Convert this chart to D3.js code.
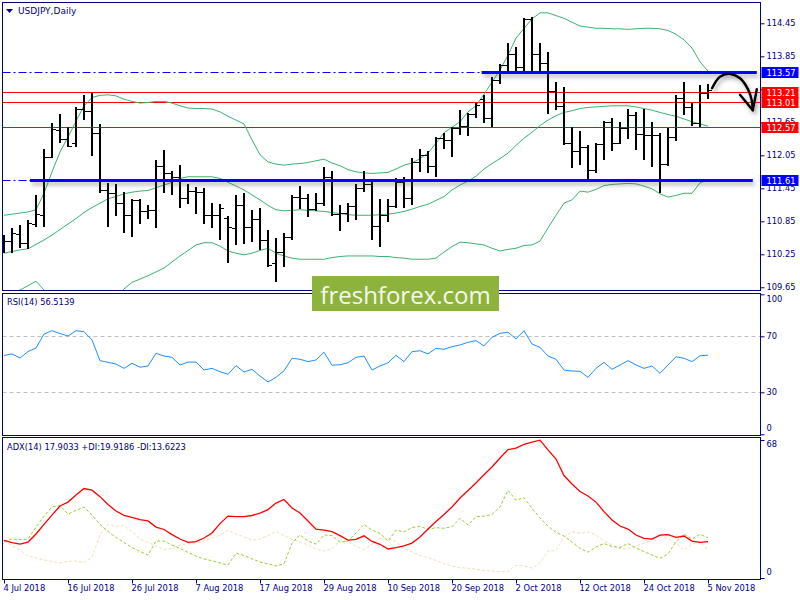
<!DOCTYPE html>
<html>
<head>
<meta charset="utf-8">
<title>USDJPY Daily</title>
<script src="https://cdn.jsdelivr.net/npm/d3@7"></script>
<style>
  body { margin: 0; background: #fff; }
  #viz svg { display: block; }
  .axis text { font-family: 'DejaVu Sans', sans-serif; font-size: 8.3px; fill: #000080; }
  .axis line { stroke: #000080; }
  .lbl { font-family: 'DejaVu Sans', sans-serif; font-size: 8.3px; fill: #000080; }
</style>
</head>
<body>
<div id="viz"></div>
<script>
// USDJPY daily bars, 4 Jul - 5 Nov 2018
const opens = [110.51,110.49,110.62,110.46,110.81,110.96,112.02,112.51,112.34,112.27,
    112.89,112.86,112.45,111.42,111.36,111.19,110.96,111.24,111.04,111.05,
    111.86,111.72,111.65,111.27,111.40,111.38,110.96,110.96,110.91,110.72,
    111.15,110.75,110.89,110.51,110.09,110.30,110.57,111.30,111.27,111.07,
    111.19,111.66,110.98,111.00,111.12,111.45,111.52,110.76,110.96,111.13,
    111.57,111.27,111.93,112.06,111.86,112.36,112.33,112.54,112.59,112.80,
    113.07,112.72,113.42,113.69,113.90,113.66,114.52,113.90,113.72,113.22,
    112.95,112.28,112.13,112.21,111.78,112.26,112.66,112.27,112.55,112.78,
    112.43,112.42,112.42,111.89,112.39,113.10,112.93,112.63,113.18];
const highs = [110.60,110.72,110.78,110.87,111.33,112.16,112.63,112.80,112.57,112.93,
    113.15,113.18,112.62,111.55,111.53,111.38,111.25,111.26,111.15,111.96,
    112.15,111.76,111.87,111.53,111.47,111.45,111.18,111.16,110.95,111.33,
    111.36,111.06,111.09,110.69,110.54,110.63,111.33,111.49,111.35,111.36,
    111.84,111.77,111.15,111.18,111.53,111.77,111.56,111.25,111.25,111.63,
    111.66,112.00,112.16,112.13,112.38,112.46,112.57,112.87,112.82,113.00,
    113.15,113.48,113.71,114.09,114.02,114.54,114.56,114.10,113.93,113.39,
    113.30,112.56,112.49,112.24,112.28,112.67,112.73,112.66,112.90,112.84,
    112.90,112.66,112.46,112.54,113.15,113.39,113.00,113.33,113.34];
const lows = [110.27,110.28,110.36,110.34,110.75,110.75,112.00,112.27,112.21,112.21,
    112.69,112.04,111.37,110.74,110.95,110.64,110.57,110.81,110.89,110.72,
    111.37,111.33,111.09,111.16,110.98,110.81,110.72,110.51,110.10,110.42,
    110.44,110.47,110.33,110.02,109.75,110.02,110.51,111.07,110.93,111.04,
    111.12,110.95,110.68,110.84,110.87,111.38,110.51,110.38,110.84,111.10,
    111.09,111.15,111.75,111.72,111.66,112.16,112.02,112.42,112.40,112.72,
    112.63,112.57,113.35,113.57,113.53,113.54,113.57,113.57,112.81,112.87,
    112.24,111.82,111.87,111.60,111.72,111.96,112.12,112.25,112.34,112.15,
    111.96,111.84,111.36,111.86,112.31,112.78,112.58,112.56,113.07];
const closes = [110.49,110.63,110.46,110.82,110.98,112.02,112.52,112.34,112.22,112.89,
    112.86,112.45,111.42,111.36,111.19,110.96,111.24,111.04,111.05,111.86,
    111.72,111.65,111.27,111.40,111.38,110.96,110.96,111.09,110.75,111.15,
    110.75,110.89,110.51,110.06,110.30,110.57,111.30,111.27,111.07,111.19,
    111.66,110.98,111.00,111.12,111.45,111.52,110.76,110.96,111.13,111.57,
    111.27,111.93,112.06,111.86,112.36,112.33,112.54,112.59,112.80,112.96,
    112.72,113.42,113.69,113.90,113.66,114.52,113.90,113.72,113.22,112.95,
    112.28,112.13,112.21,111.78,112.26,112.66,112.27,112.55,112.78,112.43,
    112.42,112.42,111.89,112.39,113.10,112.93,112.63,113.18,113.24];

// Bollinger bands (20)
const bbUpper = [110.96,110.98,111.00,111.02,111.06,111.36,111.75,112.11,112.38,112.67,
    112.95,113.10,113.14,113.15,113.13,113.07,113.03,113.00,113.01,113.03,
    113.03,113.00,112.95,112.91,112.90,112.90,112.89,112.84,112.76,112.69,
    112.62,112.33,112.06,111.93,111.89,111.87,111.89,111.90,111.92,111.95,
    111.98,111.91,111.86,111.79,111.75,111.73,111.72,111.73,111.74,111.80,
    111.87,111.91,111.99,112.09,112.27,112.46,112.56,112.66,112.84,112.95,
    113.16,113.38,113.60,113.87,114.18,114.36,114.53,114.64,114.64,114.59,
    114.54,114.47,114.40,114.38,114.36,114.36,114.35,114.35,114.34,114.35,
    114.36,114.36,114.35,114.32,114.25,114.15,114.00,113.75,113.58];
const bbMiddle = [110.27,110.30,110.33,110.35,110.43,110.51,110.60,110.70,110.80,110.90,
    111.01,111.10,111.18,111.26,111.30,111.35,111.38,111.40,111.41,111.46,
    111.51,111.56,111.63,111.66,111.66,111.66,111.66,111.63,111.56,111.49,
    111.42,111.33,111.24,111.14,111.06,111.04,111.05,111.06,111.05,111.04,
    111.03,111.01,110.99,110.97,110.96,110.96,110.96,110.97,110.98,111.00,
    111.03,111.07,111.12,111.16,111.23,111.30,111.42,111.51,111.58,111.67,
    111.80,111.90,111.99,112.09,112.23,112.36,112.47,112.59,112.69,112.77,
    112.83,112.86,112.90,112.92,112.93,112.94,112.95,112.95,112.95,112.93,
    112.90,112.87,112.83,112.79,112.76,112.71,112.66,112.62,112.58];
const bbLower = [109.55,109.56,109.60,109.68,109.76,109.60,109.51,109.29,109.22,109.13,
    109.07,109.10,109.23,109.36,109.47,109.62,109.74,109.80,109.86,109.93,
    110.00,110.11,110.22,110.32,110.42,110.46,110.46,110.40,110.31,110.27,
    110.24,110.27,110.32,110.36,110.27,110.22,110.18,110.16,110.16,110.16,
    110.16,110.19,110.21,110.22,110.22,110.22,110.22,110.21,110.21,110.19,
    110.18,110.16,110.16,110.16,110.18,110.29,110.39,110.47,110.46,110.44,
    110.42,110.36,110.31,110.34,110.36,110.41,110.42,110.49,110.73,110.96,
    111.18,111.24,111.40,111.38,111.43,111.50,111.52,111.53,111.54,111.53,
    111.49,111.44,111.35,111.29,111.32,111.36,111.36,111.55,111.60];

const rsi = [56.3,57.4,54.5,59.1,61.6,71.6,74.0,72.0,70.2,74.0,
    73.3,67.4,52.6,51.4,50.2,47.1,50.7,47.9,48.8,57.9,
    55.9,55.0,49.5,51.6,51.6,45.9,47.1,44.7,42.9,49.0,
    44.5,46.4,41.6,37.4,40.7,45.4,54.3,53.6,51.9,53.1,
    58.6,49.3,49.7,51.1,55.0,55.9,45.9,48.8,51.1,56.4,
    51.9,59.0,59.7,57.4,61.4,60.7,62.6,63.8,65.7,66.9,
    63.1,69.3,72.1,72.9,68.1,74.0,64.5,62.1,55.9,53.6,
    45.9,45.2,45.0,40.7,47.1,51.4,46.4,49.5,52.6,49.5,
    47.1,48.8,43.6,49.5,55.4,54.3,51.9,56.1,56.5];

const adx = [18.5,17.4,16.7,17.7,21.7,26.4,31.0,35.5,37.4,40.9,
    44.1,43.3,40.1,36.2,33.0,30.9,29.9,28.8,28.1,25.1,
    23.9,21.4,19.2,17.6,17.9,19.7,22.2,26.8,30.5,30.2,
    30.2,30.8,32.0,33.7,36.9,38.7,34.5,32.0,28.1,24.1,
    23.6,22.8,20.9,18.7,19.0,20.8,18.0,16.6,14.3,15.0,
    15.8,17.2,20.2,24.1,27.8,31.3,35.0,39.4,43.1,46.8,
    50.9,54.7,59.1,63.3,64.0,65.8,67.0,67.9,63.1,58.6,
    50.5,46.3,42.6,40.4,37.4,32.7,28.6,25.6,24.1,21.2,
    19.5,19.2,21.1,21.4,20.0,20.7,18.2,17.6,17.9];
const plusDI = [18.2,19.2,18.9,19.2,25.1,30.5,35.0,35.6,31.5,33.3,
    35.0,31.0,26.4,22.9,20.0,17.5,15.0,13.1,11.3,18.2,
    18.2,16.3,14.6,12.6,10.8,9.4,8.5,7.4,6.4,12.3,
    11.1,9.4,7.9,7.0,5.9,7.0,17.2,21.2,18.2,16.7,
    21.2,20.9,17.7,18.0,22.2,26.4,23.6,22.0,18.2,23.6,
    22.7,24.9,25.4,24.0,24.8,24.5,25.3,29.4,26.1,30.2,
    30.5,31.3,35.0,43.2,38.4,39.6,34.3,29.6,25.6,22.4,
    20.7,17.7,14.6,12.7,15.3,17.0,15.5,15.0,17.0,14.8,
    13.0,11.3,9.7,11.8,18.0,21.5,19.2,21.5,19.9];
const minusDI = [18.0,16.0,13.8,10.8,9.9,8.9,8.1,7.4,8.2,8.4,
    7.6,10.3,21.4,26.4,25.4,25.9,22.9,19.2,17.5,15.8,
    14.0,14.5,16.3,17.0,17.2,18.2,19.7,21.2,23.4,21.7,
    20.2,18.7,19.2,20.9,22.9,20.9,19.0,17.7,16.3,14.3,
    13.3,14.5,18.2,18.0,15.5,13.9,16.7,19.5,19.2,18.0,
    14.5,12.8,11.1,10.1,8.6,7.1,5.9,5.1,4.8,4.4,
    3.7,3.4,3.1,3.2,6.3,5.9,4.9,7.4,13.3,13.5,
    20.2,22.7,22.2,22.7,21.2,18.2,16.3,14.5,14.3,15.8,
    17.1,18.7,21.2,19.5,17.2,13.8,16.7,18.2,13.6];

// axis ticks, levels and legend values
const priceTicks = [109.65, 110.25, 110.85, 111.45, 112.05, 112.65, 113.25, 113.85, 114.45];
const rsiTicks = [0, 30, 70, 100];
const rsiLevels = [30, 70];
const adxTicks = [0, 68];
const dateTickIdx = [0, 8, 16, 24, 32, 40, 48, 56, 64, 72, 80, 88];
const blueLevels = [113.57, 111.61];
const redLevels = [113.21, 113.01, 112.57];
const rsiLegend = 'RSI(14) 56.5139';
const adxLegend = 'ADX(14) 17.9033 +DI:19.9186 -DI:13.6223';

// where the drawn lines / arrow sit, in bar-index units
const blueSpans = [[59.7, 94.1], [3.25, 93.6]];
const arrowPath = [[88.5, 113.27], [89.5, 113.48], [90.8, 113.53], [92.0, 113.45], [93.0, 113.25], [93.45, 113.06], [93.6, 112.87]];
const arrowHead = [[92.0, 113.15], [93.6, 112.87], [94.1, 113.25]];

function buildChart(containerId) {
    const width = 800;
    const height = 600;
    const left = 2.5;
    const right = 760.5;
    const navy = '#000080';

    const panes = {
        main: { top: 2.5, bottom: 290.5 },
        rsi: { top: 293.5, bottom: 435.5 },
        adx: { top: 437.5, bottom: 579.5 }
    };

    const dates = d3.utcDay.range(new Date(Date.UTC(2018, 6, 4)), new Date(Date.UTC(2018, 10, 6)))
        .filter(d => d.getUTCDay() % 6 !== 0);
    const fmt = d3.utcFormat('%-d %b %Y');

    const svg = d3.select(containerId)
        .append('svg')
        .attr('width', width)
        .attr('height', height)
        .style('font-family', "'DejaVu Sans', sans-serif");

    const x = d3.scaleLinear().domain([0, closes.length - 1]).range([4, 708]);
    const yPrice = d3.scaleLinear().domain([109.65, 114.45]).range([287.3, 23.3]);
    const yRsi = d3.scaleLinear().domain([0, 100]).range([434.3, 294.3]);
    const yAdx = d3.scaleLinear().domain([0, 68]).range([578, 440]);
    const px = v => Math.round(v) + 0.5;

    const defs = svg.append('defs');
    Object.entries(panes).forEach(([k, p]) => {
        defs.append('clipPath').attr('id', 'clip-' + k)
            .append('rect')
            .attr('x', left + 0.5).attr('y', p.top + 0.5)
            .attr('width', right - left - 1).attr('height', p.bottom - p.top - 1);
    });
    defs.append('filter').attr('id', 'shadow')
        .attr('filterUnits', 'userSpaceOnUse')
        .attr('x', 0).attr('y', 0).attr('width', width).attr('height', height)
        .append('feDropShadow')
        .attr('dx', 2).attr('dy', 3).attr('stdDeviation', 2)
        .attr('flood-color', '#555').attr('flood-opacity', 0.5);

    // pane frames
    Object.values(panes).forEach(p => {
        svg.append('rect')
            .attr('x', left).attr('y', p.top)
            .attr('width', right - left).attr('height', p.bottom - p.top)
            .attr('fill', '#fff').attr('stroke', navy);
    });

    // ---- main pane ----
    const gMain = svg.append('g').attr('clip-path', 'url(#clip-main)');

    gMain.selectAll('.red-level')
        .data(redLevels)
        .join('line')
        .attr('class', 'red-level')
        .attr('x1', left).attr('x2', right)
        .attr('y1', d => px(yPrice(d))).attr('y2', d => px(yPrice(d)))
        .attr('stroke', '#ff0000');

    gMain.selectAll('.blue-dash')
        .data(blueLevels)
        .join('line')
        .attr('class', 'blue-dash')
        .attr('x1', left).attr('x2', (d, i) => x(blueSpans[i][0]))
        .attr('y1', d => px(yPrice(d))).attr('y2', d => px(yPrice(d)))
        .attr('stroke', '#0000ff')
        .attr('stroke-dasharray', '8,3,2,3');

    const band = d3.line()
        .x((d, i) => x(i))
        .y(d => yPrice(d));

    gMain.selectAll('.band')
        .data([bbUpper, bbMiddle, bbLower])
        .join('path')
        .attr('class', 'band')
        .attr('fill', 'none')
        .attr('stroke', '#3cb371')
        .attr('stroke-width', 1)
        .attr('d', band);

    const bars = gMain.selectAll('.bar')
        .data(d3.range(closes.length))
        .join('g')
        .attr('class', 'bar')
        .attr('fill', '#000');

    bars.append('rect')
        .attr('x', i => Math.round(x(i)) - 1)
        .attr('y', i => Math.round(yPrice(highs[i])))
        .attr('width', 2)
        .attr('height', i => Math.max(1, Math.round(yPrice(lows[i])) - Math.round(yPrice(highs[i]))));
    bars.append('rect')
        .attr('x', i => Math.round(x(i)) - 4)
        .attr('y', i => Math.round(yPrice(opens[i])))
        .attr('width', 3).attr('height', 1);
    bars.append('rect')
        .attr('x', i => Math.round(x(i)) + 1)
        .attr('y', i => Math.round(yPrice(closes[i])))
        .attr('width', 3).attr('height', 1);

    // thick support / resistance lines
    svg.append('g')
        .attr('filter', 'url(#shadow)')
        .selectAll('line')
        .data(blueLevels)
        .join('line')
        .attr('x1', (d, i) => x(blueSpans[i][0]))
        .attr('x2', (d, i) => x(blueSpans[i][1]))
        .attr('y1', d => Math.round(yPrice(d)) + 0.5)
        .attr('y2', d => Math.round(yPrice(d)) + 0.5)
        .attr('stroke', '#0000ff')
        .attr('stroke-width', 3);

    // hand drawn arrow
    const arrow = svg.append('g')
        .attr('filter', 'url(#shadow)')
        .attr('fill', 'none')
        .attr('stroke', '#000')
        .attr('stroke-linecap', 'round')
        .attr('stroke-linejoin', 'round');
    arrow.append('path')
        .attr('stroke-width', 2.5)
        .attr('d', d3.line().x(d => x(d[0])).y(d => yPrice(d[1])).curve(d3.curveCatmullRom)(arrowPath));
    arrow.append('path')
        .attr('stroke-width', 2.5)
        .attr('d', d3.line().x(d => x(d[0])).y(d => yPrice(d[1]))(arrowHead));

    // ---- RSI pane ----
    const gRsi = svg.append('g').attr('clip-path', 'url(#clip-rsi)');
    gRsi.selectAll('.lvl')
        .data(rsiLevels)
        .join('line')
        .attr('x1', left).attr('x2', right)
        .attr('y1', d => px(yRsi(d))).attr('y2', d => px(yRsi(d)))
        .attr('stroke', '#c0c0c0')
        .attr('stroke-dasharray', '4,3');
    gRsi.append('path')
        .datum(rsi)
        .attr('fill', 'none')
        .attr('stroke', '#1e90ff')
        .attr('stroke-width', 1)
        .attr('d', d3.line().x((d, i) => x(i)).y(d => yRsi(d)));

    // ---- ADX pane ----
    const gAdx = svg.append('g').attr('clip-path', 'url(#clip-adx)');
    const adxLine = d3.line().x((d, i) => x(i)).y(d => yAdx(d));
    gAdx.append('path')
        .datum(minusDI)
        .attr('fill', 'none')
        .attr('stroke', '#f5deb3')
        .attr('stroke-dasharray', '3,2')
        .attr('d', adxLine);
    gAdx.append('path')
        .datum(plusDI)
        .attr('fill', 'none')
        .attr('stroke', '#9acd32')
        .attr('stroke-dasharray', '3,2')
        .attr('d', adxLine);
    gAdx.append('path')
        .datum(adx)
        .attr('fill', 'none')
        .attr('stroke', '#ff0000')
        .attr('stroke-width', 1.3)
        .attr('d', adxLine);

    // ---- axes ----
    const tagged = [...blueLevels, ...redLevels];
    const priceAxis = svg.append('g')
        .attr('class', 'axis')
        .attr('transform', `translate(${right},0)`)
        .call(d3.axisRight(yPrice).tickValues(priceTicks).tickSize(4).tickPadding(2).tickFormat(d3.format('.2f')));
    priceAxis.select('.domain').remove();
    // labels fully hidden behind a price tag are not drawn (as on the terminal)
    priceAxis.selectAll('.tick text')
        .filter(d => tagged.some(t => Math.abs(yPrice(t) - yPrice(d)) < 3))
        .remove();

    const rsiAxis = svg.append('g')
        .attr('class', 'axis')
        .attr('transform', `translate(${right},0)`)
        .call(d3.axisRight(yRsi).tickValues(rsiTicks).tickSize(4).tickPadding(2));
    rsiAxis.select('.domain').remove();
    rsiAxis.selectAll('.tick text').attr('y', d => d === 100 ? 5 : d === 0 ? -6 : 0);

    const adxAxis = svg.append('g')
        .attr('class', 'axis')
        .attr('transform', `translate(${right},0)`)
        .call(d3.axisRight(yAdx).tickValues(adxTicks).tickSize(4).tickPadding(2));
    adxAxis.select('.domain').remove();
    adxAxis.selectAll('.tick text').attr('y', d => d === 68 ? 4 : -6);

    const dateAxis = svg.append('g')
        .attr('class', 'axis')
        .attr('transform', `translate(0,${panes.adx.bottom})`)
        .call(d3.axisBottom(x).tickValues(dateTickIdx).tickSize(4).tickPadding(2).tickFormat(i => fmt(dates[i])));
    dateAxis.select('.domain').remove();
    dateAxis.selectAll('.tick text').attr('text-anchor', 'start').attr('x', -1);

    // price tags on the scale
    const tags = [
        ...blueLevels.map(v => ({ v, c: '#0000ff' })),
        ...redLevels.map(v => ({ v, c: '#ff0000' }))
    ];
    const tag = svg.selectAll('.tag')
        .data(tags)
        .join('g')
        .attr('class', 'tag')
        .attr('transform', d => `translate(${right + 1},${Math.round(yPrice(d.v))})`);
    tag.append('rect')
        .attr('x', 0).attr('y', -5)
        .attr('width', 37).attr('height', 11)
        .attr('fill', d => d.c);
    tag.append('text')
        .attr('x', 5).attr('y', 3.5)
        .attr('fill', '#fff')
        .attr('font-size', '8.3px')
        .text(d => d.v.toFixed(2));

    // titles
    svg.append('path')
        .attr('d', 'M6,9L13,9L9.5,13Z')
        .attr('fill', navy);
    svg.append('text')
        .attr('class', 'lbl')
        .attr('x', 18).attr('y', 14.3)
        .style('font-size', '9px')
        .text('USDJPY,Daily');
    svg.append('text')
        .attr('class', 'lbl')
        .attr('x', 7).attr('y', 304.7)
        .text(rsiLegend);
    svg.append('text')
        .attr('class', 'lbl')
        .attr('x', 7).attr('y', 449.7)
        .text(adxLegend);

    // watermark
    const mark = svg.append('g').attr('transform', 'translate(312,276)');
    mark.append('rect')
        .attr('width', 187).attr('height', 35)
        .attr('fill', '#8db33c');
    mark.append('text')
        .attr('x', 93.5).attr('y', 18)
        .attr('text-anchor', 'middle')
        .attr('dominant-baseline', 'central')
        .attr('fill', '#f6f8ee')
        .style('font-family', "'Open Sans', sans-serif")
        .style('font-size', '24px')
        .text('freshforex.com');
}

buildChart('#viz');
</script>
</body>
</html>
